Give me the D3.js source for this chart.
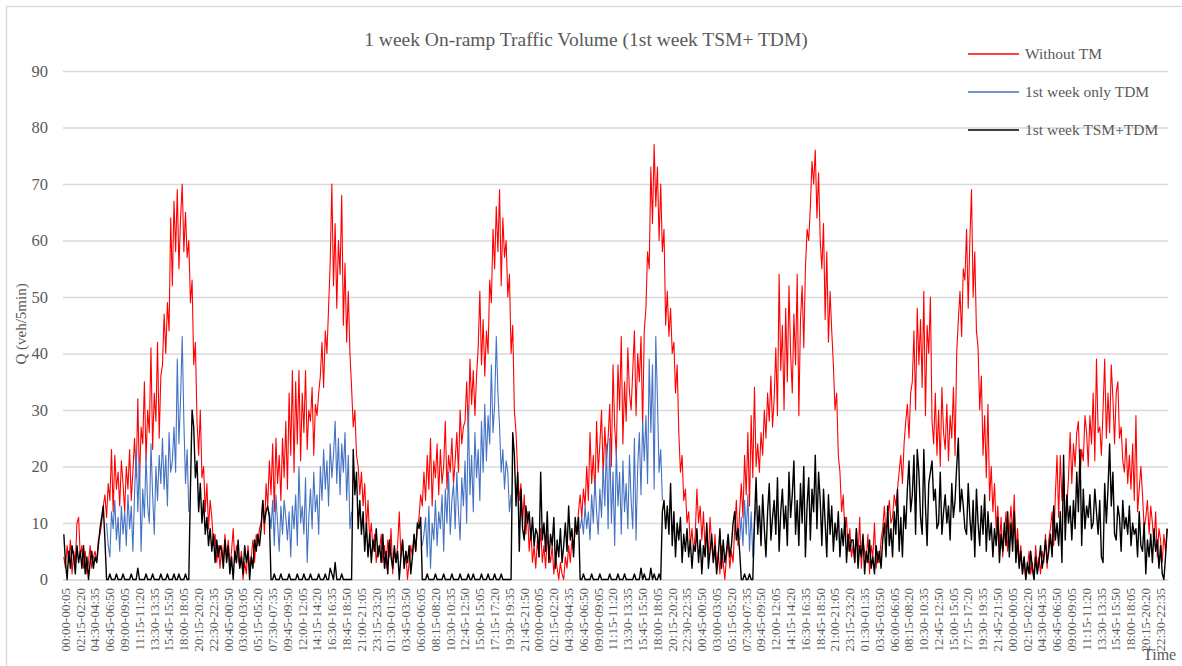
<!DOCTYPE html>
<html><head><meta charset="utf-8">
<script src="https://cdn.jsdelivr.net/npm/d3@7"></script>
<style>
body{margin:0;background:#fff}
svg{display:block}
text{font-family:"Liberation Serif","Times New Roman",serif;fill:#595959}
</style>
</head><body>
<svg id="c" width="1182" height="666"></svg>
<script>
// ---------- DATA ----------
const titleText = "1 week On-ramp Traffic Volume (1st week TSM+ TDM)";
const seriesNames = ["Without TM", "1st week only TDM", "1st week TSM+TDM"];
const seriesColors = ["#ff0000", "#4472c4", "#000000"];
const yTicks = [0,10,20,30,40,50,60,70,80,90];
const tickLabels = [
"00:00-00:05","02:15-02:20","04:30-04:35","06:45-06:50","09:00-09:05","11:15-11:20","13:30-13:35","15:45-15:50","18:00-18:05","20:15-20:20","22:30-22:35",
"00:45-00:50","03:00-03:05","05:15-05:20","07:30-07:35","09:45-09:50","12:00-12:05","14:15-14:20","16:30-16:35","18:45-18:50","21:00-21:05","23:15-23:20",
"01:30-01:35","03:45-03:50","06:00-06:05","08:15-08:20","10:30-10:35","12:45-12:50","15:00-15:05","17:15-17:20","19:30-19:35","21:45-21:50",
"00:00-00:05","02:15-02:20","04:30-04:35","06:45-06:50","09:00-09:05","11:15-11:20","13:30-13:35","15:45-15:50","18:00-18:05","20:15-20:20","22:30-22:35",
"00:45-00:50","03:00-03:05","05:15-05:20","07:30-07:35","09:45-09:50","12:00-12:05","14:15-14:20","16:30-16:35","18:45-18:50","21:00-21:05","23:15-23:20",
"01:30-01:35","03:45-03:50","06:00-06:05","08:15-08:20","10:30-10:35","12:45-12:50","15:00-15:05","17:15-17:20","19:30-19:35","21:45-21:50",
"00:00-00:05","02:15-02:20","04:30-04:35","06:45-06:50","09:00-09:05","11:15-11:20","13:30-13:35","15:45-15:50","18:00-18:05","20:15-20:20","22:30-22:35"
];
// one reading every 15 minutes (96 per day, 7 days)
const redValues = [
// day 1
4,2,6,3,7,1,5,3,10,11,4,6,2,5,1,3,6,2,4,5,3,7,8,10,
13,15,11,17,14,23,12,22,16,19,13,21,17,12,20,16,23,14,19,25,18,32,17,27,
24,35,21,30,26,41,23,33,28,42,25,36,38,47,40,49,44,64,52,67,58,69,55,64,
70,58,65,57,60,49,53,38,42,28,22,30,18,20,12,17,9,14,11,6,8,3,6,2,
// day 2
6,3,8,4,7,2,5,9,3,6,4,2,5,0,3,1,6,2,4,7,3,8,6,9,
10,14,8,17,13,21,15,24,12,25,17,22,14,25,18,28,16,33,22,37,19,35,24,37,
21,33,26,37,23,30,28,34,22,31,29,33,36,42,34,44,40,48,56,70,52,63,48,60,
54,68,45,56,42,51,40,34,27,30,22,20,15,19,13,17,9,14,7,10,5,8,3,6,
// day 3
5,8,3,6,2,7,4,9,1,5,3,6,12,4,7,2,5,0,3,6,4,8,5,9,
11,15,13,19,14,22,16,25,13,21,18,24,15,23,17,20,28,16,22,19,25,17,21,26,
19,30,24,27,28,35,26,39,31,37,29,36,41,51,38,46,36,44,40,53,49,62,55,66,
58,69,52,64,57,60,50,54,40,45,30,26,19,14,17,10,15,8,12,5,9,3,6,2,
// day 4
7,4,9,3,6,2,8,5,3,6,1,4,2,0,3,1,0,4,2,6,3,7,5,9,
8,12,15,11,16,13,20,14,26,17,22,15,28,19,24,30,18,27,21,25,31,20,38,27,
22,38,30,43,24,35,28,41,33,30,37,44,29,40,35,43,27,44,48,58,55,73,63,77,
66,73,60,70,58,62,45,51,43,48,40,42,33,38,26,19,22,14,16,10,12,6,9,5,
// day 5
8,16,10,13,7,12,5,9,4,11,6,3,8,2,5,1,6,3,0,4,7,2,5,3,
9,14,6,12,17,11,22,15,26,13,29,18,34,20,24,19,26,22,30,25,33,28,36,27,
32,41,29,54,37,45,30,48,35,52,40,33,47,38,54,29,46,52,41,55,62,60,66,74,
70,76,64,72,60,55,63,46,58,42,51,44,38,30,33,22,19,12,15,8,11,5,9,4,
// day 6
6,3,9,4,11,2,7,5,3,8,1,6,4,10,2,5,3,7,9,13,8,11,14,10,
11,15,13,16,19,22,17,24,28,31,25,33,35,44,30,48,38,46,34,51,29,45,40,50,
28,24,33,22,30,20,34,26,23,31,21,29,25,34,22,40,46,51,43,55,53,62,48,60,
69,50,58,44,41,30,36,22,29,18,31,14,20,12,17,9,13,6,11,4,8,12,5,9,
// day 7
13,8,15,5,9,3,6,1,4,0,2,5,1,3,0,6,2,4,1,5,3,8,2,7,
9,12,6,15,22,11,22,14,19,10,13,18,26,17,24,20,26,28,18,23,21,29,26,20,
29,24,33,21,39,26,27,22,30,39,25,33,26,38,32,24,33,35,25,27,21,19,25,17,
22,16,24,14,29,12,16,20,15,9,11,14,8,13,10,6,12,4,9,7,3,8,5,9
];
const blackValues = [
// day 1
8,3,0,5,2,6,4,1,6,3,5,2,6,1,4,0,3,5,2,4,3,6,9,11,
13,7,0,0,1,0,0,0,1,0,0,0,1,0,0,0,0,1,0,0,0,2,0,0,
0,0,1,0,0,0,1,0,0,0,0,1,0,0,0,1,0,0,0,1,0,0,1,0,
0,0,1,0,0,16,30,27,18,21,12,17,10,14,8,11,6,9,5,8,3,7,4,6,
// day 2
5,2,7,3,6,1,4,0,5,3,7,2,4,1,6,3,5,0,4,2,7,5,8,6,
9,14,10,12,13,11,0,0,1,0,0,0,1,0,0,0,0,1,0,0,0,0,1,0,
0,0,1,0,0,0,1,0,0,0,0,1,0,0,0,1,0,0,2,1,0,3,0,0,
0,1,0,0,0,0,0,0,23,15,19,9,14,8,12,5,10,4,8,3,7,5,9,4,
// day 3
6,3,8,2,5,1,7,4,2,6,3,5,0,4,7,2,5,3,6,1,4,8,5,10,
9,11,0,0,0,1,0,0,0,0,1,0,0,0,0,1,0,0,0,0,1,0,0,0,
0,1,0,0,0,0,1,0,0,1,0,0,0,0,1,0,0,0,1,0,0,0,1,0,
0,0,1,0,0,0,0,0,0,26,22,13,19,5,16,9,7,13,10,12,7,11,6,9,
// day 4
8,4,19,7,10,5,12,3,8,6,11,2,7,4,9,3,6,10,5,13,7,9,4,11,
8,11,0,0,1,0,0,0,0,1,0,0,0,0,1,0,0,0,0,0,1,0,0,0,
0,1,0,0,0,1,0,0,0,0,0,1,0,0,0,2,0,1,0,0,0,2,0,1,
0,0,1,0,12,14,9,13,8,17,6,12,4,10,7,11,3,8,5,9,4,7,2,6,
// day 5
5,9,3,7,1,6,4,10,2,5,8,3,6,1,4,9,2,7,3,5,8,4,6,10,
12,7,9,5,0,0,1,0,0,1,0,0,10,18,8,13,6,15,9,4,12,17,7,11,
14,8,18,5,12,16,9,13,6,19,11,15,21,8,14,6,17,10,20,4,13,18,7,16,
12,22,9,19,14,6,16,10,4,15,8,13,5,10,7,12,4,9,6,11,3,8,5,7,
// day 6
7,3,9,2,6,4,8,1,5,3,7,2,4,1,6,3,5,2,7,10,4,13,6,9,
4,12,8,16,5,11,4,13,9,16,21,12,15,22,8,23,19,11,8,23,13,6,17,19,
21,14,16,9,10,19,8,12,15,10,13,7,17,11,14,20,25,12,16,13,9,8,17,11,
7,14,4,16,10,6,13,8,15,5,12,7,10,4,9,6,11,3,8,5,10,6,12,4,
// day 7
10,5,12,3,7,2,5,1,4,0,3,1,5,2,0,4,1,3,6,2,4,7,3,5,
8,4,13,7,10,6,12,3,22,7,15,10,13,7,14,9,19,12,23,6,16,9,13,11,
15,9,10,16,12,8,14,4,3,17,10,16,24,13,19,8,7,13,11,5,14,9,11,8,
13,6,10,8,9,4,12,6,5,10,1,7,4,8,3,9,5,7,2,6,1,0,4,9
];
// blue (only TDM) is visible only where it differs from the black series:
// runs of 15-min readings, starting at the given slot of days 1-5
const blueStartSlot = [26, 29, 26, 26, 27];
const blueRuns = [
[10,6,4,12,9,14,7,11,5,13,8,12,6,15,9,13,5,15,23,12,21,5,16,11,22,13,10,24,15,8,20,14,22,17,25,16,22,13,26,19,21,27,19,39,24,32,43,28,17,23,12],
[12,9,14,6,15,10,5,13,8,14,11,7,12,4,13,9,15,6,20,10,13,8,18,3,11,16,9,19,12,15,8,20,14,23,16,21,13,24,18,22,28,17,25,15,24,19,26,14,22,9,12],
[6,8,11,4,13,2,10,7,14,6,12,9,15,5,16,10,19,8,14,17,9,19,12,7,18,13,21,10,30,15,22,12,26,18,23,14,28,19,31,21,29,24,38,26,31,43,33,27,19,23,16,21,19,12,15],
[9,11,8,13,9,12,7,15,10,18,12,8,16,11,20,13,24,9,25,10,19,6,23,13,19,8,21,12,17,9,22,14,9,25,7,20,26,15,28,21,29,17,39,26,38,16,43,32,19,23,14],
[7,11,6,14,8,15,5,12,4,10,13]
];

// ---------- CHART ----------
const W = 1182, H = 666;
const plot = {left: 63, right: 1168, top: 71, bottom: 579.5};
const N = 2016;               // 5-minute categories over the week
const SLOTS = 96, STEP = 3;   // 15-minute readings -> every 3rd category

const svg = d3.select("#c");
svg.append("rect").attr("x", 6.5).attr("y", 6.5).attr("width", 1210).attr("height", 710)
  .attr("fill", "#fff").attr("stroke", "#d9d9d9").attr("stroke-width", 1.3);

const x = d3.scaleBand().domain(d3.range(N)).range([plot.left, plot.right]);
const y = d3.scaleLinear().domain([0, 90]).range([plot.bottom, plot.top]);
const cx = i => x(i) + x.bandwidth() / 2;

// y axis with gridlines
const gy = svg.append("g").attr("transform", `translate(${plot.left},0)`)
  .call(d3.axisLeft(y).tickValues(yTicks).tickSize(-(plot.right - plot.left)).tickPadding(15));
gy.select(".domain").remove();
gy.selectAll(".tick line").attr("stroke", "#d9d9d9").attr("stroke-width", 1.3);
gy.selectAll(".tick text").attr("fill", "#595959").style("font-size", "16.5px")
  .style("font-family", '"Liberation Serif",serif');

// x axis
const gx = svg.append("g").attr("transform", `translate(0,${plot.bottom})`)
  .call(d3.axisBottom(x).tickValues(d3.range(0, N, 27)).tickFormat(i => tickLabels[i / 27]).tickSize(0).tickSizeOuter(0));
gx.select(".domain").attr("stroke", "#d9d9d9").attr("stroke-width", 1.3);
gx.selectAll(".tick text")
  .attr("transform", "rotate(-90)").attr("x", -8.5).attr("y", 0).attr("dy", "0.48em")
  .style("text-anchor", "end").attr("fill", "#595959").style("font-size", "13px")
  .style("font-family", '"Liberation Serif",serif');

// series point builders
const toPoints = vals => vals.map((v, j) => ({i: Math.floor(j / SLOTS) * 288 + (j % SLOTS) * STEP + 1, v}));
const redPts = toPoints(redValues);
const blackPts = toPoints(blackValues);
const blueSegs = blueRuns.map((run, d) => run.map((v, j) => ({i: d * 288 + (blueStartSlot[d] + j) * STEP + 1, v})));

const line = d3.line().x(d => cx(d.i)).y(d => y(d.v));
const gl = svg.append("g").attr("fill", "none").attr("stroke-linejoin", "round");
gl.append("path").datum(redPts).attr("d", line).attr("stroke", seriesColors[0]).attr("stroke-width", 1.1);
gl.selectAll(".blue").data(blueSegs).join("path").attr("class", "blue").attr("d", line)
  .attr("stroke", seriesColors[1]).attr("stroke-width", 1.1);
gl.append("path").datum(blackPts).attr("d", line).attr("stroke", seriesColors[2]).attr("stroke-width", 1.4);

// title
svg.append("text").attr("x", 586).attr("y", 46).attr("text-anchor", "middle")
  .style("font-size", "19.5px").text(titleText);
// axis titles
svg.append("text").attr("transform", "translate(21,324) rotate(-90)").attr("text-anchor", "middle")
  .attr("dy", "0.35em").style("font-size", "15px").text("Q (veh/5min)");
svg.append("text").attr("x", 1143).attr("y", 660).style("font-size", "16px").text("Time");

// legend
const lg = svg.append("g").selectAll("g").data(seriesNames).join("g")
  .attr("transform", (d, i) => `translate(968,${54 + i * 38})`);
lg.append("line").attr("x1", 0).attr("x2", 51).attr("stroke", (d, i) => seriesColors[i]).attr("stroke-width", (d, i) => i === 2 ? 1.6 : 1.3);
lg.append("text").attr("x", 57).attr("dy", "0.35em").style("font-size", "15.5px").text(d => d);
</script>
</body></html>
